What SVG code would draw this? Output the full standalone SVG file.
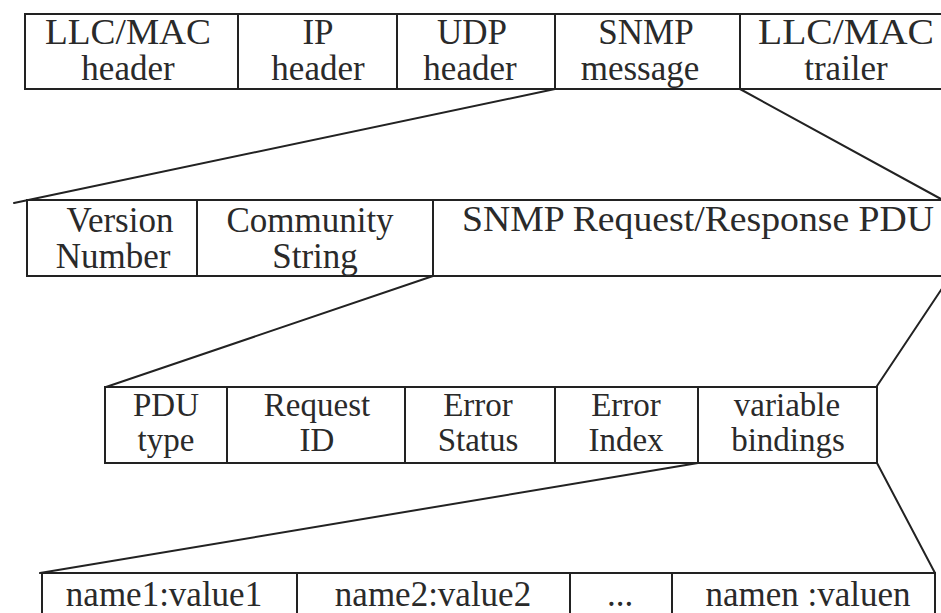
<svg xmlns="http://www.w3.org/2000/svg" width="941" height="613" viewBox="0 0 941 613">
<style>
.cell{fill:none;stroke:#222;stroke-width:2}
.t{font-family:"Liberation Serif","Times New Roman",serif;font-size:35px;fill:#2a2a2a;text-anchor:middle}
.s{font-size:33px}
.c{stroke:#222;stroke-width:2;fill:none;stroke-linecap:round}
</style>
<rect width="941" height="613" fill="#fff"/>
<g id="row1">
<g id="llcmac-header"><rect class="cell" x="25" y="14" width="213" height="75"/><text class="t" x="128" y="44" textLength="166" lengthAdjust="spacingAndGlyphs">LLC/MAC</text><text class="t" x="128" y="80">header</text></g>
<g id="ip-header"><rect class="cell" x="238" y="14" width="159" height="75"/><text class="t" x="318" y="44">IP</text><text class="t" x="318" y="80">header</text></g>
<g id="udp-header"><rect class="cell" x="397" y="14" width="158" height="75"/><text class="t" x="472" y="44">UDP</text><text class="t" x="470" y="80">header</text></g>
<g id="snmp-message"><rect class="cell" x="555" y="14" width="185" height="75"/><text class="t" x="646" y="44">SNMP</text><text class="t" x="640" y="80">message</text></g>
<g id="llcmac-trailer"><rect class="cell" x="740" y="14" width="220" height="75"/><text class="t" x="846" y="44" textLength="176" lengthAdjust="spacingAndGlyphs">LLC/MAC</text><text class="t" x="846" y="80">trailer</text></g>
</g>
<g id="row2">
<g id="version-number"><rect class="cell" x="27" y="200" width="170" height="76"/><text class="t" x="120" y="232">Version</text><text class="t" x="113" y="268">Number</text></g>
<g id="community-string"><rect class="cell" x="197" y="200" width="236" height="76"/><text class="t" x="310" y="232">Community</text><text class="t" x="315" y="268">String</text></g>
<g id="snmp-pdu"><rect class="cell" x="433" y="200" width="530" height="76"/><text class="t" x="462" y="231" style="text-anchor:start" textLength="472" lengthAdjust="spacingAndGlyphs">SNMP Request/Response PDU</text></g>
</g>
<g id="row3">
<g id="pdu-type"><rect class="cell" x="105" y="387" width="122" height="76"/><text class="t s" x="166" y="416">PDU</text><text class="t s" x="166" y="451">type</text></g>
<g id="request-id"><rect class="cell" x="227" y="387" width="178" height="76"/><text class="t s" x="317" y="416">Request</text><text class="t s" x="317" y="451">ID</text></g>
<g id="error-status"><rect class="cell" x="405" y="387" width="150" height="76"/><text class="t s" x="478" y="416">Error</text><text class="t s" x="478" y="451">Status</text></g>
<g id="error-index"><rect class="cell" x="555" y="387" width="143" height="76"/><text class="t s" x="626" y="416">Error</text><text class="t s" x="626" y="451">Index</text></g>
<g id="variable-bindings"><rect class="cell" x="698" y="387" width="179" height="76"/><text class="t s" x="787" y="416">variable</text><text class="t s" x="788" y="451">bindings</text></g>
</g>
<g id="row4">
<g id="name1"><rect class="cell" x="42" y="573" width="255" height="60"/><text class="t" x="164" y="606">name1:value1</text></g>
<g id="name2"><rect class="cell" x="297" y="573" width="273" height="60"/><text class="t" x="433" y="606">name2:value2</text></g>
<g id="ellipsis"><rect class="cell" x="570" y="573" width="102" height="60"/><text class="t" x="620" y="606">...</text></g>
<g id="namen"><rect class="cell" x="672" y="573" width="263" height="60"/><text class="t" x="808" y="606">namen :valuen</text></g>
</g>
<g id="connectors">
<line class="c" x1="555" y1="89" x2="14" y2="203"/>
<line class="c" x1="740" y1="89" x2="941" y2="199"/>
<line class="c" x1="433" y1="276" x2="106" y2="387"/>
<line class="c" x1="943" y1="287" x2="877" y2="386"/>
<line class="c" x1="698" y1="463" x2="40" y2="573"/>
<line class="c" x1="877" y1="463" x2="935" y2="573"/>
</g>
</svg>
